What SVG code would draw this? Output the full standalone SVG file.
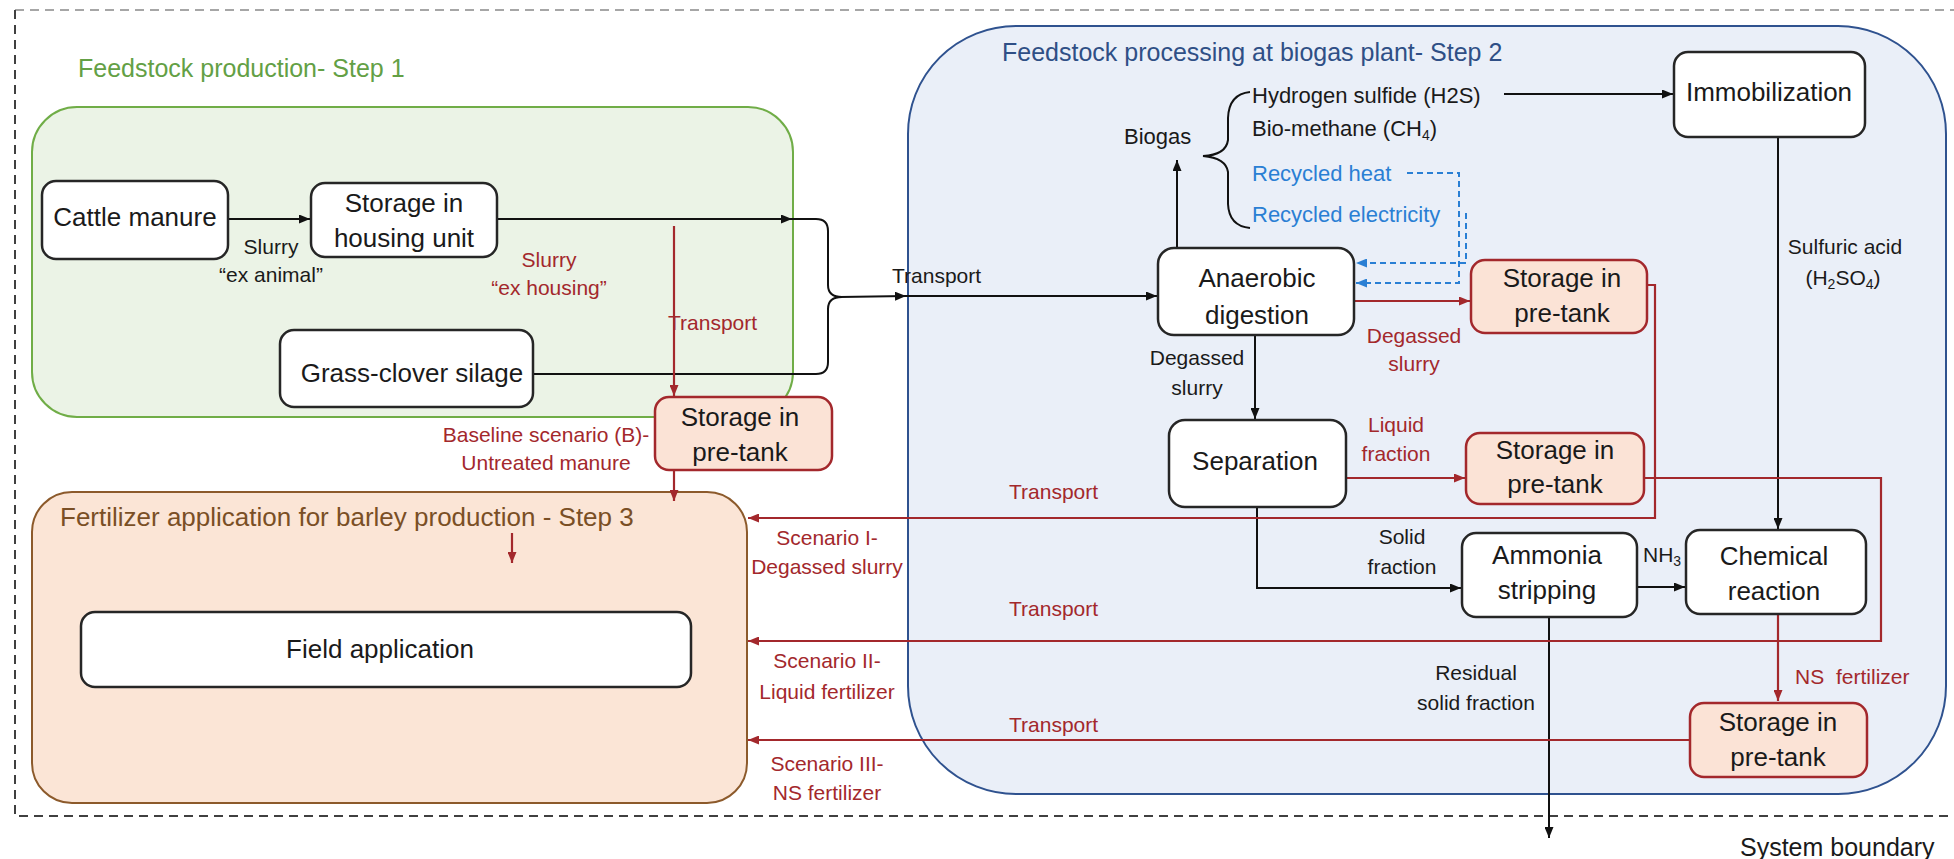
<svg xmlns="http://www.w3.org/2000/svg" width="1954" height="859" viewBox="0 0 1954 859">
<defs>
<style>
text{font-family:"Liberation Sans",Arial,sans-serif}
.nt{font-size:26px;fill:#1a1a1a;text-anchor:middle}
.lb{font-size:21px;fill:#1a1a1a;text-anchor:middle}
.lbs{font-size:21px;fill:#1a1a1a}
.bg{font-size:22px;fill:#1a1a1a}
.red{fill:#a3282c}
.blu{fill:#2a7fd4}
.ttl{font-size:25px}
.node rect{fill:#fff;stroke:#262626;stroke-width:2.5}
.tank rect{fill:#fbe3d6;stroke:#a3282c;stroke-width:2.5}
.k{fill:none;stroke:#111;stroke-width:2}
.r{fill:none;stroke:#a3282c;stroke-width:2.2}
.b{fill:none;stroke:#2a7fd4;stroke-width:2;stroke-dasharray:6 4}
</style>
<marker id="ak" viewBox="0 0 11 9" refX="11" refY="4.5" markerWidth="11" markerHeight="9" markerUnits="userSpaceOnUse" orient="auto"><path d="M0,0 L11,4.5 L0,9 z" fill="#111"/></marker>
<marker id="ar" viewBox="0 0 11 9" refX="11" refY="4.5" markerWidth="11" markerHeight="9" markerUnits="userSpaceOnUse" orient="auto"><path d="M0,0 L11,4.5 L0,9 z" fill="#a3282c"/></marker>
<marker id="ab" viewBox="0 0 11 9" refX="11" refY="4.5" markerWidth="11" markerHeight="9" markerUnits="userSpaceOnUse" orient="auto"><path d="M0,0 L11,4.5 L0,9 z" fill="#2a7fd4"/></marker>
</defs>
<rect width="1954" height="859" fill="#fff"/>

<g id="system-boundary">
<path d="M15,10 H1954" fill="none" stroke="#a6a6a6" stroke-width="2" stroke-dasharray="9 6"/>
<path d="M15,10 V816 H1954" fill="none" stroke="#404040" stroke-width="2" stroke-dasharray="9 6"/>
<text x="1740" y="856" style="font-size:25px;fill:#1a1a1a">System boundary</text>
</g>

<g id="step1">
<rect x="32" y="107" width="761" height="310" rx="45" fill="#ebf3e6" stroke="#70ad47" stroke-width="2"/>
<text x="78" y="77" class="ttl" fill="#63a045">Feedstock production- Step 1</text>
</g>

<g id="step2">
<rect x="908" y="26" width="1038" height="768" rx="108" fill="#eaeff8" stroke="#2f528f" stroke-width="2"/>
<text x="1002" y="61" class="ttl" fill="#2f4f86">Feedstock processing at biogas plant- Step 2</text>
</g>

<g id="step3">
<rect x="32" y="492" width="715" height="311" rx="40" fill="#fbe5d6" stroke="#8c5a2b" stroke-width="2"/>
<text x="60" y="526" class="ttl" fill="#7a4f25" style="font-size:26px">Fertilizer application for barley production - Step 3</text>
</g>

<g id="connectors">
<path class="k" d="M228,219 H310" marker-end="url(#ak)"/>
<path class="k" d="M497,219 H792" marker-end="url(#ak)"/>
<path class="k" d="M792,219 H816 Q828,219 828,231 V285 Q828,297 842,297"/>
<path class="k" d="M533,374 H816 Q828,374 828,362 V309 Q828,297 842,297"/>
<path class="k" d="M840,297 L906,296" marker-end="url(#ak)"/>
<path class="k" d="M906,296 H1157" marker-end="url(#ak)"/>
<path class="k" d="M1177,248 V160" marker-end="url(#ak)"/>
<path class="k" d="M1250,92 Q1229,94 1228,118 L1228,140 Q1226,155 1203,156 Q1226,158 1228,172 L1228,204 Q1229,226 1250,228"/>
<path class="k" d="M1504,94 H1673" marker-end="url(#ak)"/>
<path class="k" d="M1778,137 V529" marker-end="url(#ak)"/>
<path class="k" d="M1255,335 V419" marker-end="url(#ak)"/>
<path class="k" d="M1257,507 V588 H1461" marker-end="url(#ak)"/>
<path class="k" d="M1637,587 H1685" stroke-width="2.6" marker-end="url(#ak)"/>
<path class="k" d="M1549,617 V838" marker-end="url(#ak)"/>
<path class="b" d="M1407,173 H1459 V283 H1356" marker-end="url(#ab)"/>
<path class="b" d="M1466,213 V263 H1356" marker-end="url(#ab)"/>
<path class="r" d="M674,226 V396" marker-end="url(#ar)"/>
<path class="r" d="M674,470 V501" marker-end="url(#ar)"/>
<path class="r" d="M1354,301 H1470" stroke-width="3" marker-end="url(#ar)"/>
<path class="r" d="M1647,285 H1655 V518 H748" marker-end="url(#ar)"/>
<path class="r" d="M1346,478 H1465" marker-end="url(#ar)"/>
<path class="r" d="M1644,478 H1881 V641 H748" marker-end="url(#ar)"/>
<path class="r" d="M1778,614 V701" marker-end="url(#ar)"/>
<path class="r" d="M1690,740 H748" marker-end="url(#ar)"/>
<path class="r" d="M512,533 V563" marker-end="url(#ar)"/>
</g>

<g id="labels">
<text class="lb" x="271" y="254">Slurry</text>
<text class="lb" x="271" y="282">“ex animal”</text>
<text class="lb red" x="549" y="267">Slurry</text>
<text class="lb red" x="549" y="295">“ex housing”</text>
<text class="lbs red" x="668" y="330">Transport</text>
<text class="lbs" x="892" y="283">Transport</text>
<text class="lb red" x="546" y="442">Baseline scenario (B)-</text>
<text class="lb red" x="546" y="470">Untreated manure</text>
<text class="lb red" x="827" y="545">Scenario I-</text>
<text class="lb red" x="827" y="574">Degassed slurry</text>
<text class="lb red" x="827" y="668">Scenario II-</text>
<text class="lb red" x="827" y="699">Liquid fertilizer</text>
<text class="lb red" x="827" y="771">Scenario III-</text>
<text class="lb red" x="827" y="800">NS fertilizer</text>
<text class="bg" x="1124" y="144">Biogas</text>
<text class="bg" x="1252" y="103">Hydrogen sulfide (H2S)</text>
<text class="bg" x="1252" y="136">Bio-methane (CH<tspan font-size="14" dy="4">4</tspan><tspan dy="-4">)</tspan></text>
<text class="bg blu" x="1252" y="181">Recycled heat</text>
<text class="bg blu" x="1252" y="222">Recycled electricity</text>
<text class="lb red" x="1414" y="343">Degassed</text>
<text class="lb red" x="1414" y="371">slurry</text>
<text class="lb" x="1197" y="365">Degassed</text>
<text class="lb" x="1197" y="395">slurry</text>
<text class="lb red" x="1396" y="432">Liquid</text>
<text class="lb red" x="1396" y="461">fraction</text>
<text class="lb" x="1402" y="544">Solid</text>
<text class="lb" x="1402" y="574">fraction</text>
<text class="lbs red" x="1009" y="499">Transport</text>
<text class="lbs red" x="1009" y="616">Transport</text>
<text class="lbs red" x="1009" y="732">Transport</text>
<text class="lb" x="1845" y="254">Sulfuric acid</text>
<text class="lb" x="1843" y="285">(H<tspan font-size="14" dy="4">2</tspan><tspan dy="-4">SO</tspan><tspan font-size="14" dy="4">4</tspan><tspan dy="-4">)</tspan></text>
<text class="lbs" x="1643" y="562">NH<tspan font-size="14" dy="4">3</tspan></text>
<text class="lbs red" x="1795" y="684" word-spacing="6">NS fertilizer</text>
<text class="lb" x="1476" y="680">Residual</text>
<text class="lb" x="1476" y="710">solid fraction</text>
</g>

<g id="cattle-manure" class="node"><rect x="42" y="181" width="186" height="78" rx="14"/><text class="nt" x="135" y="226">Cattle manure</text></g>
<g id="storage-housing" class="node"><rect x="311" y="183" width="186" height="74" rx="14"/><text class="nt" x="404" y="212">Storage in</text><text class="nt" x="404" y="247">housing unit</text></g>
<g id="grass-clover" class="node"><rect x="280" y="330" width="253" height="77" rx="14"/><text class="nt" x="412" y="382">Grass-clover silage</text></g>
<g id="pretank-baseline" class="tank"><rect x="655" y="397" width="177" height="73" rx="14"/><text class="nt" x="740" y="426">Storage in</text><text class="nt" x="740" y="461">pre-tank</text></g>
<g id="field-application" class="node"><rect x="81" y="612" width="610" height="75" rx="14"/><text class="nt" x="380" y="658">Field application</text></g>
<g id="anaerobic-digestion" class="node"><rect x="1158" y="248" width="196" height="87" rx="16"/><text class="nt" x="1257" y="287">Anaerobic</text><text class="nt" x="1257" y="324">digestion</text></g>
<g id="pretank-degassed" class="tank"><rect x="1471" y="260" width="176" height="73" rx="14"/><text class="nt" x="1562" y="287">Storage in</text><text class="nt" x="1562" y="322">pre-tank</text></g>
<g id="immobilization" class="node"><rect x="1674" y="52" width="191" height="85" rx="14"/><text class="nt" x="1769" y="101">Immobilization</text></g>
<g id="separation" class="node"><rect x="1169" y="420" width="177" height="87" rx="16"/><text class="nt" x="1255" y="470">Separation</text></g>
<g id="pretank-liquid" class="tank"><rect x="1466" y="433" width="178" height="71" rx="14"/><text class="nt" x="1555" y="459">Storage in</text><text class="nt" x="1555" y="493">pre-tank</text></g>
<g id="ammonia-stripping" class="node"><rect x="1462" y="533" width="175" height="84" rx="14"/><text class="nt" x="1547" y="564">Ammonia</text><text class="nt" x="1547" y="599">stripping</text></g>
<g id="chemical-reaction" class="node"><rect x="1686" y="530" width="180" height="84" rx="14"/><text class="nt" x="1774" y="565">Chemical</text><text class="nt" x="1774" y="600">reaction</text></g>
<g id="pretank-ns" class="tank"><rect x="1690" y="703" width="177" height="74" rx="14"/><text class="nt" x="1778" y="731">Storage in</text><text class="nt" x="1778" y="766">pre-tank</text></g>
</svg>
